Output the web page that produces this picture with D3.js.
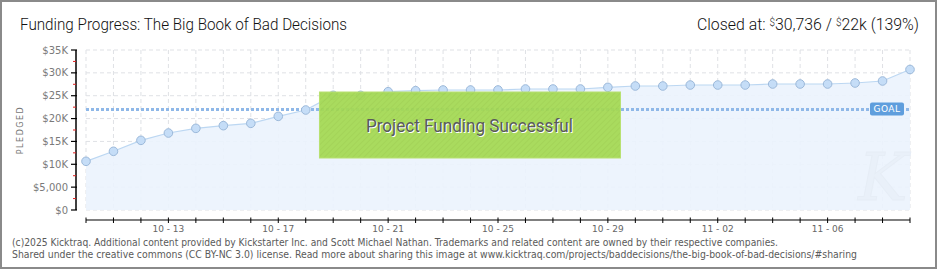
<!DOCTYPE html>
<html>
<head>
<title>Funding Progress</title>
<style>
  body { margin:0; background:#fff; }
  svg { display:block; font-family:"DejaVu Sans", sans-serif; }
</style>
<script src="https://d3js.org/d3.v7.min.js"></script>
</head>
<body>
<svg width="940" height="270"></svg>
<script>
// daily pledged totals, 10-10 .. 11-09
var days = ["10-10","10-11","10-12","10-13","10-14","10-15","10-16","10-17","10-18","10-19",
            "10-20","10-21","10-22","10-23","10-24","10-25","10-26","10-27","10-28","10-29",
            "10-30","10-31","11-01","11-02","11-03","11-04","11-05","11-06","11-07","11-08","11-09"];
var pledged = [10650,12840,15240,16840,17860,18450,18960,20490,21875,25080,
               25080,25880,26100,26250,26250,26250,26470,26470,26470,26830,
               27125,27125,27340,27340,27340,27560,27560,27560,27780,28220,30736];
var tickDays = ["10-13","10-17","10-21","10-25","10-29","11-02","11-06"];
var yTicks = [0,5000,10000,15000,20000,25000,30000,35000];
var goal = 22000;

var svg = d3.select("svg");

svg.append("rect").attr("x",1).attr("y",1).attr("width",935).attr("height",267)
   .attr("fill","#fff").attr("stroke","#8a8a8a").attr("stroke-width",2);

var x = d3.scalePoint().domain(days).range([86, 910]);
var y = d3.scaleLinear().domain([0,35000]).range([210, 50]);

// grid
var grid = svg.append("g").attr("stroke","#dfe1e5").attr("stroke-dasharray","4,3");
grid.selectAll(".gx").data(days).enter().append("line")
    .attr("x1",function(d){return x(d);}).attr("x2",function(d){return x(d);})
    .attr("y1",y(35000)).attr("y2",y(0));
grid.selectAll(".gy").data(yTicks).enter().append("line")
    .attr("x1",x(days[0])).attr("x2",x(days[days.length-1]))
    .attr("y1",function(d){return y(d);}).attr("y2",function(d){return y(d);});

// area + line
var pts = days.map(function(d,i){ return [d, pledged[i]]; });
svg.append("path").datum(pts)
   .attr("fill","#ebf3fd").attr("fill-opacity",0.9)
   .attr("d", d3.area().x(function(d){return x(d[0]);}).y0(y(0)).y1(function(d){return y(d[1]);}));

// watermark
svg.append("text").attr("x",883).attr("y",200).attr("text-anchor","middle")
   .attr("font-family","DejaVu Serif").attr("font-style","italic").attr("font-size",66)
   .attr("fill","#e9f0f9").attr("stroke","#e6edf6").attr("stroke-width",1).text("K");

svg.append("path").datum(pts)
   .attr("fill","none").attr("stroke","#bcd7f2").attr("stroke-width",1.2)
   .attr("d", d3.line().x(function(d){return x(d[0]);}).y(function(d){return y(d[1]);}));

// goal line
svg.append("line").attr("x1",x(days[0])).attr("x2",x(days[days.length-1]))
   .attr("y1",y(goal)).attr("y2",y(goal))
   .attr("stroke","#8fb8e8").attr("stroke-width",3).attr("stroke-dasharray","3,2");

// points
svg.selectAll(".pt").data(pts).enter().append("circle")
   .attr("cx",function(d){return x(d[0]);}).attr("cy",function(d){return y(d[1]);})
   .attr("r",4.3).attr("fill","#c5ddf7").attr("stroke","#9cb9da").attr("stroke-width",1);

// goal tag
var gx = x(days[days.length-1]) - 40, gy = y(goal) - 7;
svg.append("rect").attr("x",gx).attr("y",gy).attr("width",34).attr("height",13).attr("rx",2)
   .attr("fill","#5f9edd");
svg.append("text").attr("x",gx+17).attr("y",gy+10).attr("text-anchor","middle")
   .attr("font-size",9).attr("fill","#fff").attr("letter-spacing",0.5).text("GOAL");

// success banner
var hatch = svg.append("defs").append("pattern").attr("id","hatch")
   .attr("width",4).attr("height",4).attr("patternUnits","userSpaceOnUse")
   .attr("patternTransform","rotate(45)");
hatch.append("rect").attr("width",4).attr("height",4).attr("fill","#a4d952");
hatch.append("line").attr("x1",0).attr("y1",0).attr("x2",0).attr("y2",4)
   .attr("stroke","#9ccf4a").attr("stroke-width",1.5);
var bx = (x(days[8]) + x(days[9])) / 2;
svg.append("rect").attr("x",bx).attr("y",92).attr("width",301).attr("height",66)
   .attr("fill","url(#hatch)").attr("fill-opacity",0.93)
   .attr("stroke","#b7e070").attr("stroke-width",1);
svg.append("text").attr("x",bx+151).attr("y",133).attr("text-anchor","middle")
   .attr("font-family","Roboto").attr("font-size",18).attr("fill","#fff")
   .attr("textLength",207).attr("lengthAdjust","spacingAndGlyphs")
   .text("Project Funding Successful");
svg.append("text").attr("x",bx+150).attr("y",132).attr("text-anchor","middle")
   .attr("font-family","Roboto").attr("font-size",18).attr("fill","#5a5a5a")
   .attr("textLength",207).attr("lengthAdjust","spacingAndGlyphs")
   .text("Project Funding Successful");

// y axis
var yAxis = svg.append("g").attr("transform","translate(76,0)");
yAxis.append("line").attr("x1",0).attr("x2",0).attr("y1",y(35000)).attr("y2",y(0))
   .attr("stroke","#000").attr("stroke-width",1.5);
yAxis.selectAll(".mt").data(yTicks.slice(1)).enter().append("line")
   .attr("x1",-3).attr("x2",0)
   .attr("y1",function(d){return y(d-2500);}).attr("y2",function(d){return y(d-2500);})
   .attr("stroke","#e02020");
yAxis.selectAll(".tk").data(yTicks).enter().append("line")
   .attr("x1",-5).attr("x2",1)
   .attr("y1",function(d){return y(d);}).attr("y2",function(d){return y(d);})
   .attr("stroke","#000").attr("stroke-width",1.2);
yAxis.selectAll(".lb").data(yTicks).enter().append("text")
   .attr("x",-8).attr("y",function(d){return y(d)+3.5;}).attr("text-anchor","end")
   .attr("font-size",10).attr("fill","#7a7a7a")
   .text(function(d){ return d >= 10000 ? "$" + d/1000 + "K" : "$" + d3.format(",")(d); });
svg.append("text").attr("transform","translate(23,130) rotate(-90)").attr("text-anchor","middle")
   .attr("font-size",8).attr("letter-spacing",1.5).attr("fill","#777").text("PLEDGED");

// x axis
var xAxis = svg.append("g").attr("transform","translate(0,220)");
xAxis.append("line").attr("x1",x(days[0])).attr("x2",x(days[days.length-1]))
   .attr("stroke","#000").attr("stroke-width",1.2);
xAxis.selectAll(".xt").data(days).enter().append("line")
   .attr("x1",function(d){return x(d);}).attr("x2",function(d){return x(d);})
   .attr("y1",-2.5).attr("y2",3).attr("stroke","#000");
xAxis.selectAll(".xl").data(tickDays).enter().append("text")
   .attr("x",function(d){return x(d);}).attr("y",12).attr("text-anchor","middle")
   .attr("font-size",9).attr("fill","#666").text(function(d){return d.replace("-"," - ");});

// titles
svg.append("text").attr("x",20).attr("y",29.5).attr("font-family","Roboto").attr("font-weight",300)
   .attr("font-size",16).attr("fill","#111").attr("textLength",327).attr("lengthAdjust","spacingAndGlyphs")
   .text("Funding Progress: The Big Book of Bad Decisions");
var right = svg.append("text").attr("x",919).attr("y",29.5).attr("text-anchor","end")
   .attr("font-family","Roboto").attr("font-weight",300).attr("font-size",16).attr("fill","#111")
   .attr("textLength",222).attr("lengthAdjust","spacingAndGlyphs");
right.append("tspan").text("Closed at:  ");
right.append("tspan").attr("font-size",10).attr("dy",-4).text("$");
right.append("tspan").attr("dy",4).text("30,736 /  ");
right.append("tspan").attr("font-size",10).attr("dy",-4).text("$");
right.append("tspan").attr("dy",4).text("22k (139%)");

// footer
var foot = ["(c)2025 Kicktraq. Additional content provided by Kickstarter Inc. and Scott Michael Nathan. Trademarks and related content are owned by their respective companies.",
            "Shared under the creative commons (CC BY-NC 3.0) license. Read more about sharing this image at www.kicktraq.com/projects/baddecisions/the-big-book-of-bad-decisions/#sharing"];
var fw = [766, 845];
svg.selectAll(".ft").data(foot).enter().append("text")
   .attr("x",12).attr("y",function(d,i){return 245.5 + i*12.6;})
   .attr("font-size",10).attr("fill","#5a5a5a")
   .attr("textLength",function(d,i){return fw[i];}).attr("lengthAdjust","spacingAndGlyphs")
   .text(function(d){return d;});
</script>
</body>
</html>
